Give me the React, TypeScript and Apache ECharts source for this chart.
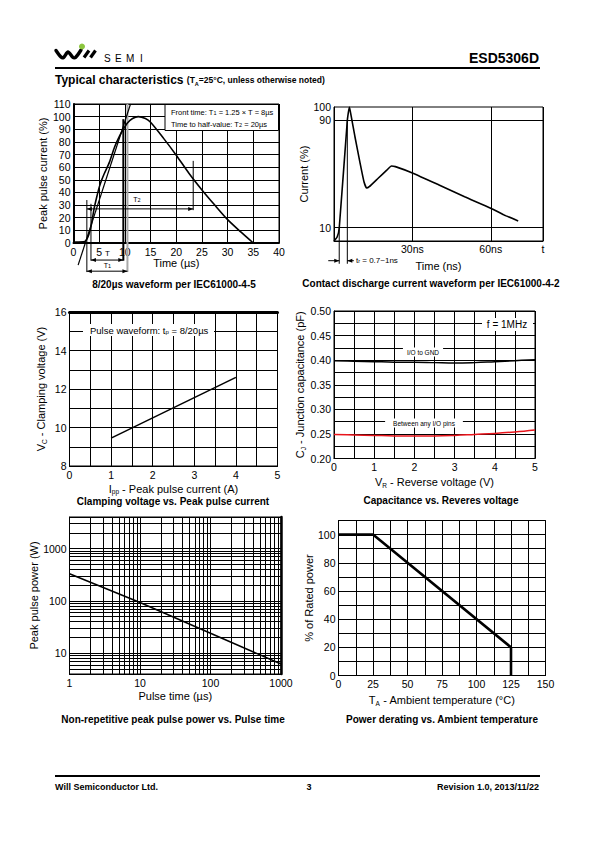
import React, { useEffect, useRef } from 'react';
import * as echarts from 'echarts';

const FONT = '"Liberation Sans", Arial, Helvetica, sans-serif';

// ---------- Chart 1: 8/20 µs waveform ----------
const w820Time = [0.3, 2.2, 2.6, 3.0, 3.5, 4, 4.5, 5, 5.5, 6, 7, 8, 9, 9.7, 10.5, 11.5, 12.6, 14, 15, 17.5, 20, 22.5, 25, 27.5, 30, 32.5, 35];
const w820Curr = [0.8, 1.2, 3, 7, 15, 27, 36, 44, 50, 55, 64, 76, 85, 90, 95, 98.5, 100, 98.5, 95.5, 83, 69.5, 55, 42, 30, 18.5, 9, 0];
const w820TangentTime = [0.9, 11.1];
const w820TangentCurr = [-17.5, 110];
const w820MarkTime = [2.6, 3.4, 9.7, 10.5, 23.3];
const w820MarkFrom = [-23, -14, -14, -23, 26];
const w820MarkTo = [34, 31, 98, 110, 65];
const w820DimFrom = [2.6, 3.4, 2.6];
const w820DimTo = [23.3, 9.7, 10.5];
const w820DimLevel = [27, -13.5, -22.3];

// ---------- Chart 2: IEC61000-4-2 contact discharge ----------
const esdTime = [0, 1.2, 2, 5.1, 5.9, 6.6, 8, 10, 11.5, 12.5, 13.5, 17, 20, 22, 23.5, 30, 40, 50, 60, 65, 70.5];
const esdCurr = [0, 3, 9.5, 90, 100, 93, 78, 58, 44, 39.5, 40.5, 47, 52.5, 56, 55.5, 50.8, 42, 33, 24.5, 19.5, 15];
const esdMarkTime = [2.0, 5.1];
const esdMarkFrom = [-17, -17];
const esdMarkTo = [10, 90];
const esdDimFrom = [-2.2, 7.6];
const esdDimTo = [2.0, 5.1];
const esdDimLevel = [-14.7, -14.7];
const esdYLabels = [10, 90, 100];
const esdXLabels = [30, 60, 80];

// ---------- Chart 3: clamping voltage ----------
const ippA = [1, 4];
const vcV = [9.45, 12.6];

// ---------- Chart 4: capacitance ----------
const vrV = [0, 0.5, 1, 1.5, 2, 2.5, 3, 3.5, 4, 4.5, 5];
const cjGnd = [0.399, 0.398, 0.397, 0.396, 0.396, 0.395, 0.394, 0.395, 0.397, 0.399, 0.401];
const cjIo = [0.249, 0.248, 0.247, 0.246, 0.246, 0.246, 0.247, 0.249, 0.251, 0.254, 0.258];

// ---------- Chart 5: peak pulse power ----------
const pulseTime = [1, 10, 100, 1000];
const pulsePower = [330, 93, 24, 6.2];
const logXLabels = [1, 10, 100, 1000];
const logYLabels = [10, 100, 1000];

// ---------- Chart 6: power derating ----------
const tempC = [0, 25, 125, 125];
const ratedPct = [100, 100, 20, 0];

const zip = (a: number[], b: number[]) => a.map((v, i) => [v, b[i]]);

const minorLog = (decades: number[], from: number, to: number) => {
  const out: number[] = [];
  decades.forEach((d) => {
    for (let m = 2; m <= 9; m++) {
      const v = m * d;
      if (v > from && v < to) out.push(v);
    }
  });
  return out;
};

const tickFont = { fontFamily: FONT, fontSize: 10.5, color: '#000' };
const nameFont = {
  fontFamily: FONT,
  fontSize: 11,
  color: '#000',
  rich: {
    n: { fontFamily: FONT, fontSize: 11, color: '#000', lineHeight: 13 },
    s: { fontFamily: FONT, fontSize: 6.5, color: '#000', lineHeight: 5, verticalAlign: 'bottom' },
  },
};

function axis(gridIndex: number, o: any) {
  const { label, lineWidth, ...rest } = o;
  return {
    gridIndex,
    type: 'value',
    nameLocation: 'middle',
    nameTextStyle: nameFont,
    axisLine: { show: true, onZero: false, lineStyle: { color: '#000', width: lineWidth || 1 } },
    axisTick: { show: false },
    splitLine: { show: true, lineStyle: { color: '#000', width: 1, type: 'solid' } },
    axisLabel: { ...tickFont, margin: 3, ...(label || {}) },
    ...rest,
  };
}

function borderAxis(gridIndex: number, position: string, width: number) {
  return {
    gridIndex,
    type: 'value',
    position,
    min: 0,
    max: 1,
    axisLine: { show: true, lineStyle: { color: '#000', width } },
    axisTick: { show: false },
    axisLabel: { show: false },
    splitLine: { show: false },
  };
}

function vLines(xi: number, times: number[], from: number[], to: number[], styleFn: (i: number) => any) {
  return times.map((t, i) => ({
    type: 'line',
    xAxisIndex: xi,
    yAxisIndex: xi,
    data: [[t, from[i]], [t, to[i]]],
    symbol: 'none',
    clip: false,
    silent: true,
    z: 4,
    lineStyle: styleFn(i),
  }));
}

function arrowSeries(xi: number, rows: number[][]) {
  return {
    type: 'custom',
    xAxisIndex: xi,
    yAxisIndex: xi,
    silent: true,
    clip: false,
    z: 5,
    data: rows,
    renderItem: (_p: any, api: any) => {
      const a = api.coord([api.value(0), api.value(2)]);
      const b = api.coord([api.value(1), api.value(2)]);
      const children: any[] = [
        { type: 'line', shape: { x1: a[0], y1: a[1], x2: b[0], y2: b[1] }, style: { stroke: '#000', lineWidth: 1 } },
      ];
      const head = (tip: number[], from: number[]) => {
        const dx = tip[0] - from[0];
        const dy = tip[1] - from[1];
        const L = Math.hypot(dx, dy) || 1;
        const ux = dx / L;
        const uy = dy / L;
        const len = 5;
        const w = 2;
        return {
          type: 'polygon',
          shape: {
            points: [
              [tip[0], tip[1]],
              [tip[0] - ux * len - uy * w, tip[1] - uy * len + ux * w],
              [tip[0] - ux * len + uy * w, tip[1] - uy * len - ux * w],
            ],
          },
          style: { fill: '#000' },
        };
      };
      if (api.value(3)) children.push(head(a, b));
      if (api.value(4)) children.push(head(b, a));
      return { type: 'group', children };
    },
  };
}

const sub = { fontFamily: FONT, fontSize: 5.5, fill: '#000', lineHeight: 4, verticalAlign: 'bottom' };
const nrm = (size: number) => ({ fontFamily: FONT, fontSize: size, fill: '#000' });

function txt(x: number, y: number, text: string, size: number, extra: any = {}) {
  const { rich, ...rest } = extra;
  return {
    type: 'text',
    x,
    y,
    z: 100,
    silent: true,
    style: {
      text,
      fontFamily: FONT,
      fontSize: size,
      fill: '#000',
      align: 'left',
      verticalAlign: 'middle',
      ...rest,
      rich: rich,
    },
  };
}

function rect(x: number, y: number, w: number, h: number, stroke?: string) {
  return {
    type: 'rect',
    z: 99,
    silent: true,
    shape: { x, y, width: w, height: h },
    style: { fill: '#fff', stroke: stroke || null, lineWidth: 1 },
  };
}

function buildOption() {
  const gridBase = { show: true, borderColor: '#000', borderWidth: 1, containLabel: false, outerBoundsMode: 'none' };
  const grid = [
    { ...gridBase, left: 73.5, top: 104, width: 205.5, height: 139 },
    { ...gridBase, left: 334, top: 107, width: 209, height: 134 },
    { ...gridBase, left: 69.5, top: 312, width: 208, height: 154 },
    { ...gridBase, left: 334, top: 311, width: 201, height: 147.5 },
    { ...gridBase, left: 69.5, top: 517, width: 211.5, height: 157 },
    { ...gridBase, left: 338.5, top: 520.5, width: 207, height: 155 },
  ];

  const xAxis = [
    axis(0, { min: 0, max: 40, interval: 5, lineWidth: 2, name: 'Time (µs)', nameGap: 14 }),
    axis(1, {
      min: 0,
      max: 80,
      interval: 30,
      name: 'Time (ns)',
      nameGap: 19,
      label: { customValues: esdXLabels, formatter: (v: number) => (v === 80 ? 't' : v + 'ns'), margin: 2 },
    }),
    axis(2, {
      min: 0,
      max: 5,
      interval: 0.5,
      name: '{n|I}{s|pp}{n| - Peak pulse current (A)}',
      nameGap: 16,
      label: { formatter: (v: number) => (Math.abs(v - Math.round(v)) < 1e-6 ? String(Math.round(v)) : '') },
    }),
    axis(3, {
      min: 0,
      max: 5,
      interval: 0.5,
      name: '{n|V}{s|R}{n| - Reverse voltage (V)}',
      nameGap: 17,
      label: { formatter: (v: number) => (Math.abs(v - Math.round(v)) < 1e-6 ? String(Math.round(v)) : '') },
    }),
    axis(4, {
      type: 'log',
      logBase: 10,
      min: 1,
      max: 1000,
      name: 'Pulse time (µs)',
      nameGap: 16,
      label: {
        formatter: (v: number) => (logXLabels.includes(Math.round(v)) ? String(Math.round(v)) : ''),
      },
    }),
    axis(5, {
      min: 0,
      max: 150,
      interval: 12.5,
      name: '{n|T}{s|A}{n| - Ambient temperature (°C)}',
      nameGap: 18,
      label: { formatter: (v: number) => (Math.abs(v % 25) < 1e-6 ? String(v) : '') },
    }),
    borderAxis(2, 'top', 3),
  ];

  const yAxis = [
    axis(0, { min: 0, max: 110, interval: 10, lineWidth: 2, name: 'Peak pulse current (%)', nameGap: 25 }),
    axis(1, {
      min: 0,
      max: 100,
      interval: 25,
      name: 'Current (%)',
      nameGap: 24,
      label: { customValues: esdYLabels },
      axisTick: { show: true, inside: true, length: 6, customValues: [10, 90], lineStyle: { color: '#000', width: 1 } },
    }),
    axis(2, {
      min: 8,
      max: 16,
      interval: 1,
      name: '{n|V}{s|C}{n| - Clamping voltage (V)}',
      nameGap: 22,
      label: { formatter: (v: number) => (v % 2 === 0 ? String(v) : '') },
    }),
    axis(3, {
      min: 0.2,
      max: 0.5,
      interval: 0.025,
      name: '{n|C}{s|J}{n| - Junction capacitance (pF)}',
      nameGap: 27,
      label: { formatter: (v: number) => (Math.round(v * 1000) % 50 === 0 ? v.toFixed(2) : '') },
    }),
    axis(4, {
      type: 'log',
      logBase: 10,
      min: 4,
      max: 4000,
      name: 'Peak pulse power (W)',
      nameGap: 26,
      label: {
        formatter: (v: number) => (logYLabels.includes(Math.round(v)) ? String(Math.round(v)) : ''),
      },
    }),
    axis(5, {
      min: 0,
      max: 110,
      interval: 10,
      name: '% of Rated power',
      nameGap: 18,
      label: { formatter: (v: number) => (v % 20 === 0 && v <= 100 ? String(v) : '') },
    }),
    borderAxis(4, 'right', 2.5),
  ];

  const black = (w: number) => ({ color: '#000', width: w });

  const series: any[] = [
    // chart 1
    {
      type: 'line', xAxisIndex: 0, yAxisIndex: 0, data: zip(w820Time, w820Curr), symbol: 'none', smooth: 0.25,
      lineStyle: black(1.6), silent: true, z: 6,
    },
    {
      type: 'line', xAxisIndex: 0, yAxisIndex: 0, data: zip(w820TangentTime, w820TangentCurr), symbol: 'none',
      clip: false, lineStyle: black(1.2), silent: true, z: 5,
    },
    ...vLines(0, w820MarkTime, w820MarkFrom, w820MarkTo, (i) =>
      i === 3 ? { color: '#a9a9a9', width: 2 } : i === 2 ? black(2) : black(1)),
    arrowSeries(0, w820DimFrom.map((f, i) => [f, w820DimTo[i], w820DimLevel[i], 1, 1])),
    // chart 2
    {
      type: 'line', xAxisIndex: 1, yAxisIndex: 1, data: zip(esdTime, esdCurr), symbol: 'none', smooth: 0.15,
      lineStyle: black(1.6), silent: true, z: 6,
    },
    ...vLines(1, esdMarkTime, esdMarkFrom, esdMarkTo, () => black(1)),
    arrowSeries(1, esdDimFrom.map((f, i) => [f, esdDimTo[i], esdDimLevel[i], 0, 1])),
    // chart 3
    {
      type: 'line', xAxisIndex: 2, yAxisIndex: 2, data: zip(ippA, vcV), symbol: 'none', lineStyle: black(1.5), silent: true,
    },
    // chart 4
    {
      type: 'line', xAxisIndex: 3, yAxisIndex: 3, data: zip(vrV, cjGnd), symbol: 'none', smooth: 0.4,
      lineStyle: black(1.5), silent: true,
    },
    {
      type: 'line', xAxisIndex: 3, yAxisIndex: 3, data: zip(vrV, cjIo), symbol: 'none', smooth: 0.4,
      lineStyle: { color: '#e8141b', width: 1.5 }, silent: true,
    },
    // chart 5
    {
      type: 'line', xAxisIndex: 4, yAxisIndex: 4, data: zip(pulseTime, pulsePower), symbol: 'none',
      lineStyle: black(1.5), silent: true, z: 6,
      markLine: {
        silent: true,
        symbol: 'none',
        label: { show: false },
        emphasis: { disabled: true },
        lineStyle: { color: '#000', width: 1, type: 'solid' },
        data: [
          ...minorLog([1, 10, 100], 1, 1000).map((v) => ({ xAxis: v })),
          ...minorLog([1, 10, 100, 1000], 4, 4000).map((v) => ({ yAxis: v })),
        ],
      },
    },
    // chart 6
    {
      type: 'line', xAxisIndex: 5, yAxisIndex: 5, data: zip(tempC, ratedPct), symbol: 'none', lineStyle: black(2.6), silent: true,
    },
  ];

  const graphic: any[] = [
    // logo
    {
      type: 'polyline', z: 100, silent: true,
      shape: { points: [[56, 50.5], [61, 57], [63.5, 57.5], [68, 52], [73, 57.5], [75.5, 57.5], [81, 50]], smooth: 0.3 },
      style: { stroke: '#000', lineWidth: 3.4, fill: null, lineJoin: 'round', lineCap: 'round' },
    },
    { type: 'circle', z: 100, silent: true, shape: { cx: 82, cy: 46.5, r: 3 }, style: { fill: '#8cc63e' } },
    { type: 'line', z: 100, silent: true, shape: { x1: 84, y1: 57.5, x2: 89, y2: 50.5 }, style: { stroke: '#000', lineWidth: 3.2 } },
    { type: 'line', z: 100, silent: true, shape: { x1: 90.5, y1: 57.5, x2: 95.5, y2: 50.5 }, style: { stroke: '#000', lineWidth: 3.2 } },
    txt(104, 58, 'S', 10),
    txt(115, 58, 'E', 10),
    txt(126, 58, 'M', 10),
    txt(140, 58, 'I', 10),
    txt(539, 58, 'ESD5306D', 14, { fontWeight: 'bold', align: 'right' }),
    { type: 'line', z: 100, silent: true, shape: { x1: 55, y1: 68, x2: 540, y2: 68 }, style: { stroke: '#000', lineWidth: 2 } },
    txt(55, 80, '{b|Typical characteristics }{s|(T}{u|A}{s|=25°C, unless otherwise noted)}', 12, {
      rich: {
        b: { fontFamily: FONT, fontSize: 12, fontWeight: 'bold', fill: '#000', lineHeight: 14 },
        s: { fontFamily: FONT, fontSize: 8.5, fontWeight: 'bold', fill: '#000', lineHeight: 14 },
        u: { ...sub, fontWeight: 'bold' },
      },
    }),
    // footer
    { type: 'line', z: 100, silent: true, shape: { x1: 55, y1: 776, x2: 540, y2: 776 }, style: { stroke: '#000', lineWidth: 2 } },
    txt(55, 787, 'Will Semiconductor Ltd.', 9, { fontWeight: 'bold' }),
    txt(309, 787, '3', 9, { fontWeight: 'bold', align: 'center' }),
    txt(539, 787, 'Revision 1.0, 2013/11/22', 9, { fontWeight: 'bold', align: 'right' }),
    // chart titles
    txt(174, 284, '8/20µs waveform per IEC61000-4-5', 10, { fontWeight: 'bold', align: 'center' }),
    txt(431, 283, 'Contact discharge current waveform per IEC61000-4-2', 10, { fontWeight: 'bold', align: 'center' }),
    txt(173, 501, 'Clamping voltage vs. Peak pulse current', 10, { fontWeight: 'bold', align: 'center' }),
    txt(441, 500, 'Capacitance vs. Reveres voltage', 10, { fontWeight: 'bold', align: 'center' }),
    txt(173, 719, 'Non-repetitive peak pulse power vs. Pulse time', 10, { fontWeight: 'bold', align: 'center' }),
    txt(442, 719, 'Power derating vs. Ambient temperature', 10, { fontWeight: 'bold', align: 'center' }),
    // chart 1 annotations
    rect(165, 104.5, 113.5, 26, '#000'),
    txt(171, 112, '{a|Front time: T}{u|1}{a| = 1.25 × T = 8µs}', 7.5, { rich: { a: nrm(7.5), u: sub } }),
    txt(171, 124, '{a|Time to half-value: T}{u|2}{a| = 20µs}', 7.5, { rich: { a: nrm(7.5), u: sub } }),
    txt(137, 199, '{a|T}{u|2}', 7, { align: 'center', rich: { a: nrm(7), u: sub } }),
    txt(107.5, 253, 'T', 8, { align: 'center' }),
    txt(107.5, 265.5, '{a|T}{u|1}', 7, { align: 'center', rich: { a: nrm(7), u: sub } }),
    // chart 2 annotation
    txt(356, 260, '{a|t}{u|r}{a| = 0.7~1ns}', 8, { rich: { a: nrm(8), u: sub } }),
    // chart 3 annotation
    rect(83, 324, 131, 12),
    txt(90, 330, '{a|Pulse waveform: t}{u|p}{a| = 8/20µs}', 9.5, { rich: { a: nrm(9.5), u: { ...sub, fontSize: 6 } } }),
    // chart 4 annotations
    rect(482, 318, 51, 13),
    txt(507, 324.5, 'f = 1MHz', 10, { align: 'center' }),
    txt(423, 352, 'I/O to GND', 6.5, { align: 'center', backgroundColor: '#fff', padding: [1, 4] }),
    txt(424, 423, 'Between any I/O pins', 6.5, { align: 'center', backgroundColor: '#fff', padding: [1, 8] }),
  ];

  return {
    animation: false,
    backgroundColor: '#fff',
    textStyle: { fontFamily: FONT },
    grid,
    xAxis,
    yAxis,
    series,
    graphic,
  };
}

export default function App() {
  const ref = useRef<HTMLDivElement>(null);
  useEffect(() => {
    if (!ref.current) return;
    const chart = echarts.init(ref.current, undefined, { renderer: 'svg' });
    chart.setOption(buildOption() as any);
    return () => chart.dispose();
  }, []);
  return <div ref={ref} style={{ position: 'absolute', left: 0, top: 0, width: 595, height: 842 }} />;
}
